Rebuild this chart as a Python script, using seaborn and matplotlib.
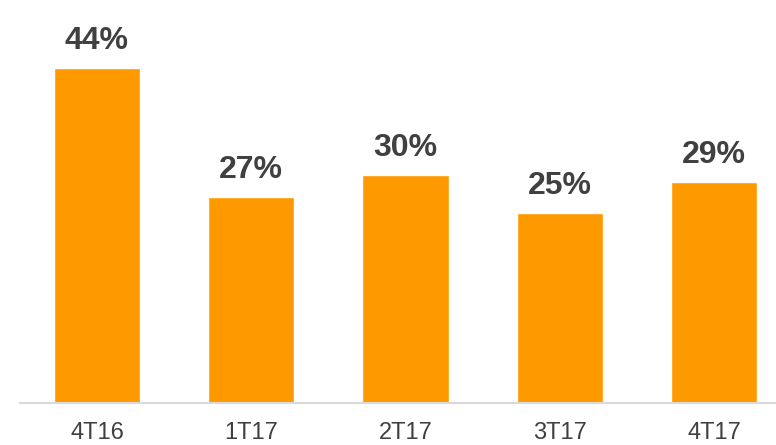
import matplotlib
matplotlib.use("Agg")
import matplotlib.pyplot as plt
import seaborn as sns
import pandas as pd

quarters = ["4T16", "1T17", "2T17", "3T17", "4T17"]
shares = [44, 27, 30, 25, 29]

sns.set_theme(style="white")
plt.rcParams["font.family"] = ["Liberation Sans", "DejaVu Sans"]

df = pd.DataFrame({"quarter": quarters, "share": shares})

fig = plt.figure(figsize=(7.76, 4.45), dpi=100)
ax = fig.add_axes([20 / 776, (445 - 402.5) / 445, 756 / 776, 402.5 / 445])

sns.barplot(data=df, x="quarter", y="share", color="#FF9900",
            saturation=1, width=0.56, ax=ax)

px_per_unit = 154.25
xmin = -(97 - 20) / px_per_unit
ax.set_xlim(xmin, xmin + 756 / px_per_unit)
ax.set_ylim(0, 402.5 / 7.6)

for i, v in enumerate(shares):
    ax.annotate(f"{v}%", (i, v), xytext=(0, 8.5), textcoords="offset points",
                ha="center", va="bottom", fontsize=23, fontweight="bold",
                color="#404040")

ax.set_xlabel("")
ax.set_ylabel("")
ax.set_yticks([])
for side in ["top", "right", "left"]:
    ax.spines[side].set_visible(False)
ax.spines["bottom"].set_color("#d9d9d9")
ax.spines["bottom"].set_linewidth(1.5)
ax.tick_params(axis="x", length=0, pad=14, labelsize=17, labelcolor="#404040")

fig.savefig("out.png", dpi=100)
